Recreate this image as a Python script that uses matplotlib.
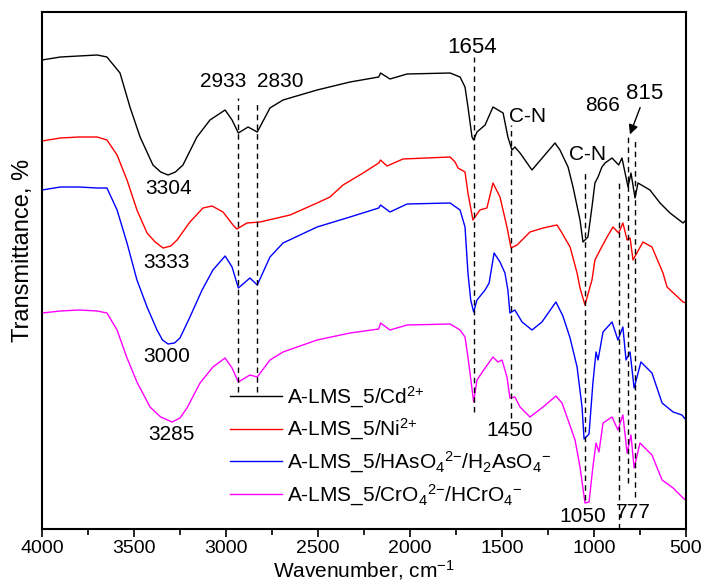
import numpy as np
import matplotlib
matplotlib.use("Agg")
import matplotlib.pyplot as plt

# ================= DATA =================
# wavenumber (cm-1) / transmittance (a.u.)
cd_wn = [4000, 3900, 3800, 3700, 3647, 3576, 3522, 3467, 3397, 3355, 3315, 3275, 3234, 3158,
         3087, 3005, 2967, 2933, 2880, 2830, 2761, 2690, 2505, 2326, 2170, 2160, 2109, 2016,
         1782, 1728, 1701, 1685, 1663, 1654, 1636, 1592, 1549, 1494, 1468, 1446, 1430, 1402,
         1337, 1212, 1185, 1141, 1114, 1076, 1060, 1033, 1011, 995, 978, 957, 940, 902, 866,
         848, 831, 815, 799, 777, 761, 696, 641, 587, 516, 500]
cd_t = [93.8, 94.4, 94.6, 94.8, 94.4, 91.2, 84.4, 78.4, 72.8, 71.4, 70.8, 71.4, 72.8, 78.4,
        81.8, 83.8, 81.8, 79.2, 80.4, 79.4, 84.2, 85.8, 87.8, 89.4, 90.4, 91.2, 90.0, 91.0,
        91.2, 90.4, 88.4, 84.4, 78.4, 77.8, 79.4, 80.8, 84.4, 83.2, 78.4, 75.8, 76.4, 75.2,
        71.8, 77.2, 75.8, 72.4, 68.4, 61.8, 57.4, 58.4, 64.4, 69.2, 70.4, 72.4, 73.2, 74.2, 72.8,
        74.2, 71.2, 68.4, 71.2, 66.2, 69.2, 67.8, 65.2, 63.2, 61.2, 61.8]

ni_wn = [4000, 3900, 3800, 3700, 3647, 3592, 3538, 3484, 3429, 3385, 3342, 3300, 3266, 3196,
         3125, 3076, 3016, 2962, 2941, 2886, 2815, 2652, 2505, 2435, 2364, 2255, 2170, 2160,
         2125, 2038, 1782, 1755, 1739, 1701, 1685, 1658, 1620, 1582, 1549, 1511, 1473, 1451,
         1418, 1348, 1277, 1201, 1174, 1130, 1092, 1076, 1049, 1022, 1011, 995, 967, 929, 897,
         866, 843, 820, 804, 788, 734, 685, 625, 603, 516, 500]
ni_t = [77.6, 78.2, 78.4, 78.4, 77.8, 74.8, 69.8, 63.8, 59.2, 57.4, 56.2, 56.6, 57.8, 61.4,
        64.2, 64.6, 63.4, 60.8, 60.0, 61.2, 61.4, 62.8, 65.2, 66.4, 68.8, 71.2, 73.2, 73.8,
        72.6, 74.0, 74.4, 73.4, 72.2, 71.4, 67.2, 61.8, 63.8, 64.2, 69.2, 66.4, 60.4, 56.2,
        56.8, 59.4, 60.2, 60.8, 59.2, 56.4, 51.2, 48.2, 44.8, 48.4, 49.8, 53.8, 55.8, 58.4, 60.4,
        59.2, 61.2, 57.8, 58.2, 53.8, 57.4, 56.4, 51.2, 48.4, 45.4, 45.2]

as_wn = [4000, 3900, 3800, 3700, 3647, 3592, 3538, 3484, 3429, 3375, 3345, 3315, 3280, 3250,
         3196, 3130, 3071, 3005, 2967, 2933, 2870, 2830, 2761, 2690, 2505, 2326, 2170, 2160,
         2109, 2016, 1782, 1728, 1701, 1685, 1670, 1654, 1636, 1592, 1570, 1543, 1511, 1484,
         1468, 1457, 1430, 1391, 1337, 1283, 1207, 1169, 1130, 1092, 1065, 1054, 1027, 1006,
         989, 978, 951, 902, 870, 843, 826, 804, 782, 745, 685, 630, 570, 522, 500]
as_t = [67.8, 68.4, 68.4, 68.2, 68.2, 63.8, 57.2, 49.8, 44.4, 39.8, 37.8, 37.0, 37.2, 38.2,
        42.4, 47.8, 51.8, 54.6, 52.4, 48.2, 50.2, 48.8, 54.4, 57.2, 60.4, 62.4, 64.2, 64.8,
        63.4, 65.0, 65.2, 63.8, 60.4, 51.2, 45.8, 43.4, 45.8, 47.8, 49.2, 55.2, 53.4, 51.2,
        47.8, 43.2, 43.8, 41.4, 39.8, 41.4, 45.4, 42.6, 38.2, 32.4, 24.4, 18.0, 19.0, 29.2,
        35.4, 33.8, 39.4, 41.4, 37.8, 40.4, 33.8, 35.4, 28.2, 33.4, 31.2, 25.2, 23.4, 22.8, 21.8]

cr_wn = [4000, 3900, 3800, 3700, 3647, 3592, 3538, 3484, 3413, 3355, 3293, 3250, 3212, 3141,
         3071, 3005, 2967, 2933, 2870, 2830, 2761, 2690, 2505, 2326, 2170, 2160, 2109, 2016,
         1782, 1728, 1701, 1685, 1654, 1636, 1592, 1549, 1522, 1500, 1473, 1457, 1430, 1402,
         1348, 1277, 1207, 1174, 1141, 1103, 1076, 1049, 1027, 1006, 989, 973, 951, 902, 870,
         843, 820, 799, 782, 750, 685, 630, 570, 516, 500]
cr_t = [43.2, 43.6, 43.8, 43.6, 43.2, 39.8, 34.2, 29.4, 24.4, 22.4, 21.4, 22.2, 24.2, 29.2,
        32.4, 34.2, 32.2, 29.4, 30.8, 30.4, 33.8, 35.4, 37.8, 39.2, 40.0, 41.2, 39.8, 40.8,
        41.0, 39.8, 38.4, 34.4, 25.4, 29.8, 32.2, 34.4, 33.4, 33.8, 30.4, 26.2, 26.4, 24.4,
        22.4, 24.4, 26.6, 25.2, 21.8, 17.8, 12.4, 5.2, 5.4, 12.4, 17.2, 15.4, 21.2, 22.4, 19.8,
        22.8, 15.2, 18.8, 12.2, 17.2, 14.8, 9.8, 8.2, 6.2, 5.8]

labels = ["A-LMS_5/Cd$^{2{+}}$", "A-LMS_5/Ni$^{2{+}}$",
          "A-LMS_5/HAsO$_4$$^{2{-}}$/H$_2$AsO$_4$$^{-}$",
          "A-LMS_5/CrO$_4$$^{2{-}}$/HCrO$_4$$^{-}$"]
colors = ["black", "#ff0000", "#0000ff", "#ff00ff"]

# dashed marker lines: position, bottom, top
mark_wn = [2933, 2830, 1654, 1450, 1050, 866, 815, 777]
mark_lo = [27.4, 27.4, 23.4, 22.2, 5.8, 0.0, 9.2, 6.4]
mark_hi = [86.2, 85.4, 94.4, 80.8, 71.4, 69.2, 78.4, 78.2]

# peak annotations: text, x, y
notes = [("2933", 3016, 89.6), ("2830", 2706, 89.6), ("1654", 1663, 96.4),
         ("C-N", 1359, 82.6), ("C-N", 1033, 75.0), ("866", 951, 84.8),
         ("815", 723, 87.2), ("3304", 3310, 68.2), ("3333", 3321, 53.4),
         ("3000", 3321, 34.6), ("3285", 3299, 19.0), ("1450", 1457, 19.8),
         ("1050", 1060, 2.6), ("777", 788, 3.4)]
# =========================================

plt.rcParams["font.family"] = ["Liberation Sans", "DejaVu Sans"]
plt.rcParams["mathtext.fontset"] = "custom"
plt.rcParams["mathtext.rm"] = "Liberation Sans"
plt.rcParams["mathtext.it"] = "Liberation Sans:italic"

fig = plt.figure(figsize=(7.02, 5.88), dpi=100)
ax = fig.add_axes([42 / 702, 1 - 529 / 588, 644 / 702, 517 / 588])

series = [(cd_wn, cd_t), (ni_wn, ni_t), (as_wn, as_t), (cr_wn, cr_t)]
for (wn, t), c, lab in zip(series, colors, labels):
    ax.plot(wn, t, color=c, lw=1.0, label=lab)

ax.vlines(mark_wn, mark_lo, mark_hi, colors="black", linestyles=(0, (4, 3)), lw=1.0)

for txt, x, y in notes:
    size = 16 if txt in ("1654", "815") else 15
    ax.text(x, y, txt, ha="center", va="center", fontsize=size)

ax.annotate("", xy=(810, 78.4), xytext=(744, 84.8),
            arrowprops=dict(arrowstyle="-|>", color="black", lw=1.0, mutation_scale=14))

ax.set_xlim(4000, 500)
ax.set_ylim(0, 103.4)
ax.set_xticks(np.arange(4000, 499, -500))
ax.set_xticks(np.arange(3750, 500, -500), minor=True)
ax.set_yticks([])
ax.tick_params(axis="x", which="major", direction="out", length=6, width=1.2,
               labelsize=14, pad=2)
ax.tick_params(axis="x", which="minor", direction="out", length=4, width=1.2)
for s in ax.spines.values():
    s.set_linewidth(1.5)

ax.set_xlabel("Wavenumber, cm$^{-1}$", fontsize=15, labelpad=1)
ax.set_ylabel("Transmittance, %", fontsize=17)
ax.yaxis.set_label_coords(-0.012, 0.538)

ax.legend(loc="upper left", bbox_to_anchor=(0.292, 0.28), frameon=False, fontsize=15,
          borderpad=0, borderaxespad=0, handlelength=2.5, handletextpad=0.25,
          labelspacing=0.35)

fig.savefig("out.png", dpi=100)
